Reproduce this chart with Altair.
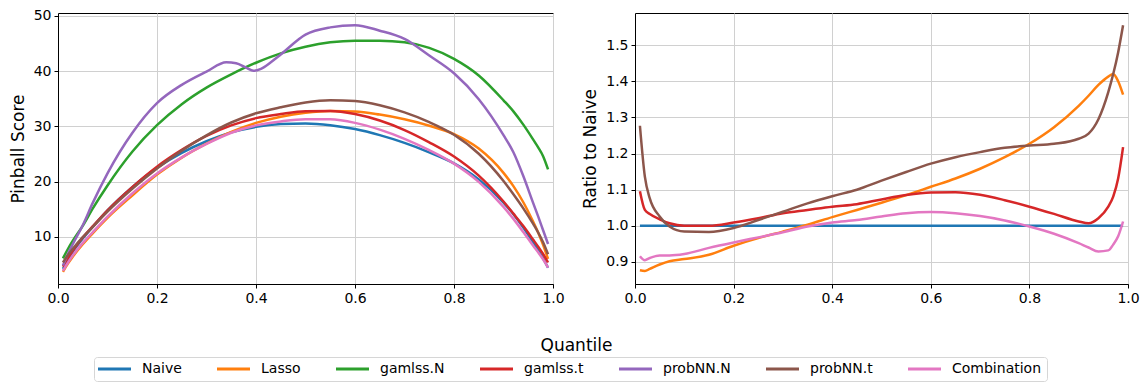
import altair as alt
import pandas as pd

MODELS = ["Naive", "Lasso", "gamlss.N", "gamlss.t", "probNN.N", "probNN.t", "Combination"]
COLORS = ["#1f77b4", "#ff7f0e", "#2ca02c", "#d62728", "#9467bd", "#8c564b", "#e377c2"]

# Quantile grid
Q = [0.01, 0.02, 0.03, 0.05, 0.07, 0.10, 0.15, 0.20, 0.25, 0.30, 0.35, 0.40, 0.45, 0.50,
     0.55, 0.60, 0.65, 0.70, 0.75, 0.80, 0.85, 0.90, 0.92, 0.94, 0.96, 0.97, 0.98, 0.99]

# Left panel: pinball scores
naive_ps = [4.2, 5.9, 7.3, 9.7, 11.8, 14.8, 19.0, 22.5, 25.2, 27.3, 28.9, 29.9, 30.4, 30.5,
            30.2, 29.5, 28.4, 27.0, 25.3, 23.3, 20.4, 16.2, 14.1, 11.7, 9.0, 7.6, 6.1, 4.4]
lasso_ps = [3.68, 5.16, 6.43, 8.66, 10.64, 13.44, 17.48, 21.26, 24.34, 26.86, 28.99, 30.62, 31.74, 32.45,
            32.77, 32.69, 32.12, 31.27, 30.11, 28.59, 25.97, 21.58, 19.18, 16.26, 12.72, 10.79, 8.54, 6.0]
gamlssN_ps = [6.1, 7.8, 9.3, 12.0, 15.1, 19.3, 25.4, 30.2, 34.0, 37.0, 39.4, 41.5, 43.2, 44.4,
              45.2, 45.5, 45.5, 45.2, 44.2, 42.2, 39.2, 34.7, 32.7, 30.3, 27.6, 26.2, 24.6, 22.2]
gamlssT_ps = [4.6, 6.16, 7.54, 9.87, 11.88, 14.8, 19.0, 22.7, 25.73, 28.26, 30.17, 31.48, 32.22, 32.73,
              32.77, 32.21, 31.04, 29.32, 27.10, 24.53, 21.07, 16.39, 14.2, 11.95, 9.48, 8.22, 6.9, 5.36]
probNNT_ps = [5.36, 6.70, 7.85, 9.95, 11.78, 14.56, 18.68, 22.37, 25.6, 28.36, 30.69, 32.35, 33.44, 34.31,
              34.70, 34.57, 33.80, 32.51, 30.76, 28.47, 25.03, 20.1, 17.7, 15.15, 12.33, 10.79, 9.03, 6.84]
comb_ps = [3.85, 5.34, 6.65, 8.9, 10.83, 13.65, 17.84, 21.47, 24.39, 26.81, 28.84, 30.17, 30.89, 31.29,
           31.26, 30.62, 29.39, 27.73, 25.68, 23.25, 19.95, 15.42, 13.25, 10.87, 8.39, 7.2, 5.92, 4.45]

# probNN.N has its own grid (wiggle near 0.35-0.4)
PQ = [0.01, 0.02, 0.03, 0.05, 0.07, 0.10, 0.15, 0.20, 0.25, 0.30, 0.34, 0.36, 0.38, 0.395, 0.41, 0.43,
      0.45, 0.50, 0.55, 0.60, 0.65, 0.70, 0.75, 0.80, 0.85, 0.90, 0.92, 0.94, 0.96, 0.97, 0.98, 0.99]
probNNN_ps = [4.8, 6.9, 8.7, 12.1, 16.1, 21.5, 28.8, 34.2, 37.5, 39.9, 41.6, 41.4, 40.6, 40.05, 40.4, 41.6,
              43.0, 46.6, 47.9, 48.3, 47.3, 45.8, 42.8, 39.6, 34.9, 28.4, 25.3, 21.0, 16.1, 13.7, 11.2, 8.7]

# Right panel: ratio to naive
naive_r = [1.0] * len(Q)
lasso_r = [0.877, 0.875, 0.881, 0.893, 0.902, 0.908, 0.920, 0.945, 0.966, 0.984, 1.003, 1.024, 1.044, 1.064,
           1.085, 1.108, 1.131, 1.158, 1.190, 1.227, 1.273, 1.332, 1.360, 1.390, 1.413, 1.420, 1.400, 1.363]
gamlssT_r = [1.096, 1.044, 1.033, 1.018, 1.007, 1.000, 1.000, 1.009, 1.021, 1.035, 1.044, 1.053, 1.060, 1.073,
             1.085, 1.092, 1.093, 1.086, 1.071, 1.053, 1.033, 1.012, 1.007, 1.021, 1.053, 1.081, 1.131, 1.218]
probNNT_r = [1.277, 1.136, 1.076, 1.026, 0.998, 0.984, 0.983, 0.994, 1.016, 1.039, 1.062, 1.082, 1.100, 1.125,
             1.149, 1.172, 1.190, 1.204, 1.216, 1.222, 1.227, 1.241, 1.255, 1.295, 1.370, 1.420, 1.480, 1.555]
comb_r = [0.916, 0.905, 0.911, 0.918, 0.918, 0.922, 0.939, 0.954, 0.968, 0.982, 0.998, 1.009, 1.016, 1.026,
          1.035, 1.038, 1.035, 1.027, 1.015, 0.998, 0.978, 0.952, 0.940, 0.929, 0.932, 0.948, 0.971, 1.012]


def long(series):
    rows = []
    for name, qs, vals in series:
        for i, (q, v) in enumerate(zip(qs, vals)):
            rows.append({"model": name, "q": q, "v": v, "i": i})
    return pd.DataFrame(rows)


df_left = long([
    ("Naive", Q, naive_ps), ("Lasso", Q, lasso_ps), ("gamlss.N", Q, gamlssN_ps),
    ("gamlss.t", Q, gamlssT_ps), ("probNN.N", PQ, probNNN_ps), ("probNN.t", Q, probNNT_ps),
    ("Combination", Q, comb_ps),
])
df_right = long([
    ("Naive", Q, naive_r), ("Lasso", Q, lasso_r), ("gamlss.t", Q, gamlssT_r),
    ("probNN.t", Q, probNNT_r), ("Combination", Q, comb_r),
])

legend = alt.Legend(
    orient="none", legendX=36, legendY=344, direction="horizontal", title=None,
    symbolType="M-3.3,0L3.3,0", symbolSize=100, symbolStrokeWidth=3, symbolOffset=8.5,
    labelFontSize=14, labelColor="black", columnPadding=29, labelOffset=20.5,
    strokeColor="#d6d6d6", padding=5, cornerRadius=3, fillColor="white",
)
color = alt.Color("model:N", scale=alt.Scale(domain=MODELS, range=COLORS), legend=legend)
xticks = [0.0, 0.2, 0.4, 0.6, 0.8, 1.0]

left = alt.Chart(df_left).mark_line(strokeWidth=2.5, interpolate="monotone").encode(
    x=alt.X("q:Q", scale=alt.Scale(domain=[0, 1], nice=False),
            axis=alt.Axis(values=xticks, format=".1f", title="Quantile", titleX=518, titlePadding=32)),
    y=alt.Y("v:Q", scale=alt.Scale(domain=[1.47, 50.5], nice=False, zero=False),
            axis=alt.Axis(values=[10, 20, 30, 40, 50], title="Pinball Score", titlePadding=6)),
    color=color,
    order=alt.Order("i:Q"),
).properties(width=495, height=271)

right = alt.Chart(df_right).mark_line(strokeWidth=2.5, interpolate="monotone").encode(
    x=alt.X("q:Q", scale=alt.Scale(domain=[0, 1], nice=False),
            axis=alt.Axis(values=xticks, format=".1f", title=None)),
    y=alt.Y("v:Q", scale=alt.Scale(domain=[0.839, 1.589], nice=False, zero=False),
            axis=alt.Axis(values=[0.9, 1.0, 1.1, 1.2, 1.3, 1.4, 1.5], format=".1f",
                          title="Ratio to Naive", titlePadding=6)),
    color=color,
    order=alt.Order("i:Q"),
).properties(width=493, height=271)

chart = alt.hconcat(left, right, spacing=82, bounds="flush").configure(
    font="DejaVu Sans", padding={"left": 0, "top": 0, "right": 0, "bottom": 0}
).configure_view(stroke="black", strokeWidth=1).configure_axis(
    labelFontSize=14, titleFontSize=17, labelColor="black", titleColor="black",
    tickColor="black", domainColor="black", gridColor="#d0d0d0", tickSize=4,
    labelPadding=3, titleFontWeight="normal", domainWidth=1, tickWidth=1, gridWidth=1,
    labelFlush=False,
)

chart.save("out.html", embed_options={"renderer": "svg", "actions": False})
